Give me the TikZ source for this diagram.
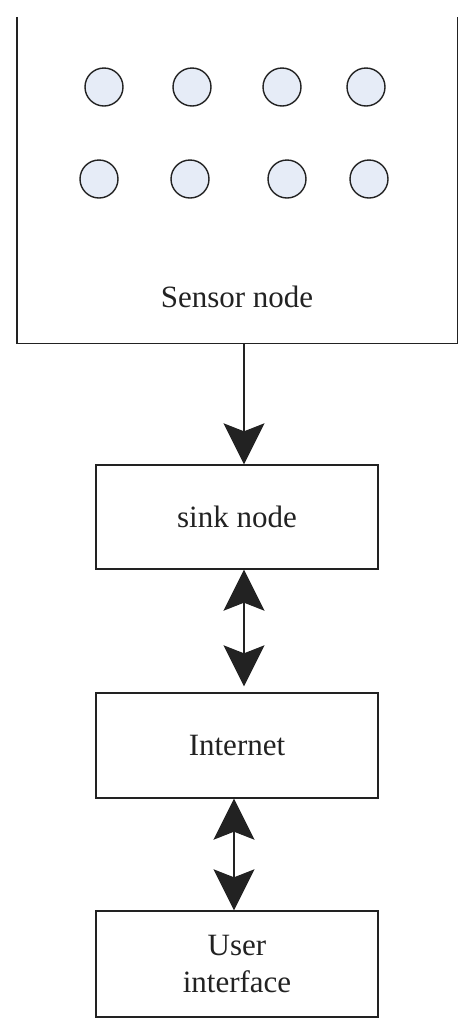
\documentclass[tikz,border=0pt]{standalone}
\usepackage{fontspec}
\setmainfont{Liberation Serif}
\usetikzlibrary{arrows.meta,calc}
\definecolor{ink}{HTML}{222222}
\definecolor{dotfill}{HTML}{E6ECF7}
\tikzset{
  lbl/.style={font=\fontsize{31}{37}\selectfont, text=ink},
  box/.style={draw=ink, line width=1.4pt, minimum width=282pt, minimum height=104pt, inner sep=0pt, align=center, lbl},
  dot/.style={circle, draw=ink, line width=1.4pt, fill=dotfill, minimum size=38pt, inner sep=0pt},
  conn/.style={draw=ink, line width=1.4pt},
  tip/.tip={Stealth[length=41pt, width=41pt, inset=8pt]}
}
\begin{document}
\begin{tikzpicture}[x=1pt,y=-1pt]
\useasboundingbox (0,0) rectangle (474,1034);
% sensor field (open at top)
\node[minimum width=440pt, minimum height=326pt, inner sep=0pt] (sensor) at (237,180) {};
\draw[conn] (sensor.north west) -- (sensor.south west) -- (sensor.south east) -- (sensor.north east);
\node[lbl] (sensorlbl) at (237,297) {Sensor node};
\node[dot] (d1) at (104,87) {};
\node[dot] (d2) at (192,87) {};
\node[dot] (d3) at (282,87) {};
\node[dot] (d4) at (366,87) {};
\node[dot] (d5) at (99,179) {};
\node[dot] (d6) at (190,179) {};
\node[dot] (d7) at (287,179) {};
\node[dot] (d8) at (369,179) {};
% boxes
\node[box] (sink) at (237,517) {sink node};
\node[box, minimum height=105pt] (internet) at (237,745.5) {Internet};
\node[box, minimum height=106pt] (user) at (237,964) {User\\interface};
% connectors
\draw[conn, -tip] ([xshift=7pt]sensor.south) -- ([xshift=7pt]sink.north);
\draw[conn, tip-tip] ([xshift=7pt]sink.south) -- ([xshift=7pt,yshift=6pt]internet.north);
\draw[conn, tip-tip] ([xshift=-3pt]internet.south) -- ([xshift=-3pt]user.north);
\end{tikzpicture}
\end{document}
